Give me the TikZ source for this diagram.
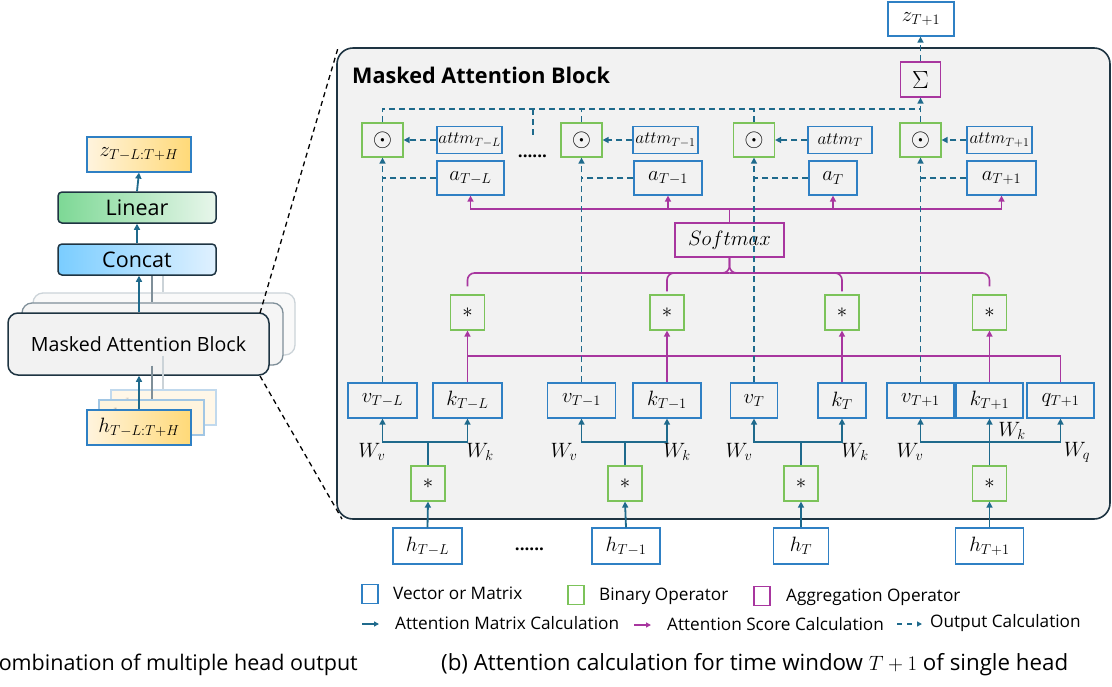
\documentclass[tikz,border=0pt]{standalone}
\usepackage[no-math]{fontspec}
\setmainfont{Open Sans}
\usetikzlibrary{arrows.meta}
\definecolor{vblue}{HTML}{2F80C4}
\definecolor{ogreen}{HTML}{7CC35A}
\definecolor{apurple}{HTML}{A8369F}
\definecolor{arrblue}{HTML}{1F6A8C}
\definecolor{bggray}{HTML}{F2F2F2}
\definecolor{darkedge}{HTML}{1E3442}
\definecolor{gOrL}{HTML}{FFF4DE}
\definecolor{gOrR}{HTML}{FFD977}
\definecolor{gGrL}{HTML}{7DD895}
\definecolor{gGrR}{HTML}{E8F6EB}
\definecolor{gBlL}{HTML}{7ACDFF}
\definecolor{gBlR}{HTML}{E0F1FF}
\definecolor{shadowA}{HTML}{7F8F99}
\definecolor{shadowB}{HTML}{CBD3D8}
\newcommand\myfs[1]{\fontsize{#1}{#1}\selectfont}
\tikzset{
  vec/.style={draw=vblue, line width=1.2pt, inner sep=0pt, minimum height=35pt, font=\myfs{22}},
  bop/.style={draw=ogreen, line width=1.2pt, inner sep=0pt, minimum width=34pt, minimum height=35pt, font=\myfs{20}},
  agg/.style={draw=apurple, line width=1.2pt, inner sep=0pt},
  tip/.style={-{Triangle[length=6pt,width=6pt]}},
  tline/.style={draw=arrblue, line width=1.8pt},
  tarr/.style={tline, tip},
  pline/.style={draw=apurple, line width=1.6pt},
  parr/.style={pline, tip},
  dline/.style={draw=arrblue, line width=1.7pt, dash pattern=on 6pt off 4pt},
  darr/.style={dline, tip},
  odot/.style={bop, minimum width=41pt, minimum height=34pt, font=\myfs{25}},
  attm/.style={vec, minimum width=65pt, minimum height=27pt, font=\myfs{16.5}},
  lblk/.style={draw=darkedge, line width=1.5pt, rounded corners=4pt, inner sep=0pt, minimum width=158pt, minimum height=31pt, font=\myfs{21.5}},
  lgtxt/.style={anchor=west, inner sep=0pt, font=\myfs{17.2}},
  wlab/.style={inner sep=0pt, font=\myfs{20.5}},
  hbox/.style={line width=1.2pt, inner sep=0pt, minimum width=104pt, minimum height=35pt, font=\myfs{21}},
}
\begin{document}
\begin{tikzpicture}[x=1pt,y=-1pt]
\useasboundingbox (0,0) rectangle (1112,686);

%================ LEFT PANEL =================
\node[hbox, draw=vblue, left color=gOrL, right color=gOrR] (zL) at (139,154.5) {$z_{T-L:T+H}$};
\node[lblk, left color=gGrL, right color=gGrR] (lin) at (137,207.5) {Linear};
\node[lblk, left color=gBlL, right color=gBlR] (cat) at (137,259.5) {Concat};

\node[draw=shadowB, line width=1.3pt, fill=gray!5, rounded corners=10pt, minimum width=262pt, minimum height=62pt] (mab3) at (164,324) {};
\node[draw=shadowA, line width=1.3pt, fill=gray!8, rounded corners=10pt, minimum width=261pt, minimum height=62pt] (mab2) at (152.5,334) {};
\node[draw=darkedge, line width=1.5pt, fill=bggray, rounded corners=10pt, minimum width=261pt, minimum height=62pt, font=\myfs{19.6}] (mab1) at (138.5,344) {Masked Attention Block};

\coordinate (c2) at (152,276);
\coordinate (c3) at (163,276);
\draw[shadowA, line width=1.3pt] (c2) -- (c2 |- mab2.north);
\draw[shadowB, line width=1.3pt] (c3) -- (c3 |- mab3.north);

\node[hbox, draw=vblue!30, minimum width=105pt, fill=gOrL!70!white, text opacity=0.15] (hS3) at (163.5,407.5) {$h_{T-L:T+H}$};
\node[hbox, draw=vblue!45, minimum width=105pt, fill=gOrL, text opacity=0.22] (hS2) at (151.5,417.5) {$h_{T-L:T+H}$};
\draw[shadowA, line width=1.3pt] (mab2.south -| c2) -- (c2 |- hS2.north);
\draw[shadowB, line width=1.3pt] (mab3.south -| c3) -- (c3 |- hS3.north);
\node[hbox, draw=vblue, left color=gOrL, right color=gOrR] (hL) at (139,427.5) {$h_{T-L:T+H}$};

\draw[tarr] (hL.north) -- (hL.north |- mab1.south);
\draw[tarr] (mab1.north -| hL.north) -- (hL.north |- cat.south);
\draw[tarr] (cat.north) -- (lin.south);
\draw[tarr] (lin.north) -- (zL.south);

\coordinate (zu0) at (260,313);
\coordinate (zu1) at (338,48);
\coordinate (zd0) at (260,376);
\coordinate (zd1) at (342,519);

%================ BIG BLOCK =================
\node[draw=darkedge, line width=1.6pt, fill=bggray, rounded corners=16pt, minimum width=773pt, minimum height=471pt] (mab) at (723.5,283.5) {};
\draw[black, line width=1.3pt, dash pattern=on 5pt off 4pt] (zu0) -- (zu1);
\draw[black, line width=1.3pt, dash pattern=on 5pt off 4pt] (zd0) -- (zd1);
\node[anchor=base west, inner sep=0pt, font=\bfseries\myfs{21.6}] (title) at (352,83) {Masked Attention Block};

% top output
\node[vec, minimum width=66pt, minimum height=34pt, fill=white] (zT) at (921,19) {$z_{T+1}$};
\node[agg, minimum width=40pt, minimum height=35pt, font=\myfs{27}] (sig) at (920.5,79.5) {$\Sigma$};

% odot row
\node[odot] (o1) at (382.5,140) {$\odot$};
\node[odot] (o2) at (581.5,140) {$\odot$};
\node[odot] (o3) at (754,140) {$\odot$};
\node[odot] (o4) at (920.5,140) {$\odot$};

\node[attm] (t1) at (469.5,140) {$attm_{T-L}$};
\node[attm] (t2) at (665.5,140) {$attm_{T-1}$};
\node[attm, minimum width=64pt] (t3) at (840,140) {$attm_{T}$};
\node[attm] (t4) at (999.5,140) {$attm_{T+1}$};

\node[vec, minimum width=67pt, minimum height=34pt] (a1) at (470.5,178) {$a_{T-L}$};
\node[vec, minimum width=68pt, minimum height=34pt] (a2) at (668,178) {$a_{T-1}$};
\node[vec, minimum width=48pt, minimum height=34pt] (a3) at (833,178) {$a_{T}$};
\node[vec, minimum width=69pt, minimum height=34pt] (a4) at (1001.5,178) {$a_{T+1}$};

\node[inner sep=0pt, font=\bfseries\myfs{17}] (dotsA) at (532.5,156) {......};

% softmax
\node[agg, minimum width=109pt, minimum height=34pt, font=\myfs{21}] (sm) at (729.5,240) {$Softmax$};

% upper * boxes
\node[bop] (s1) at (467.5,312.5) {$*$};
\node[bop] (s2) at (667,312.5) {$*$};
\node[bop] (s3) at (842,312.5) {$*$};
\node[bop] (s4) at (989.5,312.5) {$*$};

% v k q row
\node[vec, minimum width=69pt] (v1) at (382.5,400.5) {$v_{T-L}$};
\node[vec, minimum width=69pt] (k1) at (467.5,400.5) {$k_{T-L}$};
\node[vec, minimum width=68pt] (v2) at (581.5,400.5) {$v_{T-1}$};
\node[vec, minimum width=68pt] (k2) at (667,400.5) {$k_{T-1}$};
\node[vec, minimum width=47pt] (v3) at (754,400.5) {$v_{T}$};
\node[vec, minimum width=48pt] (k3) at (842,400.5) {$k_{T}$};
\node[vec, minimum width=67pt] (v4) at (920.5,400.5) {$v_{T+1}$};
\node[vec, minimum width=67pt] (k4) at (989.5,400.5) {$k_{T+1}$};
\node[vec, minimum width=67pt] (q4) at (1060.5,400.5) {$q_{T+1}$};

% lower * boxes
\node[bop] (m1) at (428,483.5) {$*$};
\node[bop] (m2) at (625,483.5) {$*$};
\node[bop] (m3) at (801,483.5) {$*$};
\node[bop] (m4) at (989.5,483.5) {$*$};

% h row
\node[vec, minimum width=69pt, minimum height=36pt, fill=white] (h1) at (427.5,546) {$h_{T-L}$};
\node[vec, minimum width=68pt, minimum height=36pt, fill=white] (h2) at (626,546) {$h_{T-1}$};
\node[vec, minimum width=55pt, minimum height=36pt, fill=white] (h3) at (801,546) {$h_{T}$};
\node[vec, minimum width=68pt, minimum height=36pt, fill=white] (h4) at (989.5,546) {$h_{T+1}$};
\node[inner sep=0pt, font=\bfseries\myfs{17}] (dotsB) at (529.5,549) {......};

% W labels
\node[wlab] (wv1) at (372,452) {$W_v$};
\node[wlab] (wk1) at (480,452) {$W_k$};
\node[wlab] (wv2) at (564,452) {$W_v$};
\node[wlab] (wk2) at (677,452) {$W_k$};
\node[wlab] (wv3) at (739,452) {$W_v$};
\node[wlab] (wk3) at (855,452) {$W_k$};
\node[wlab] (wv4) at (910,452) {$W_v$};
\node[wlab] (wk4) at (1012,431) {$W_k$};
\node[wlab] (wq4) at (1077,452) {$W_q$};

%================ CONNECTORS =================
\draw[tarr] (h1.north) -- (m1.south);
\draw[tarr] (h2.north) -- (m2.south);
\draw[tarr] (h3.north) -- (m3.south);
\draw[tarr] (h4.north) -- (m4.south);

\coordinate (j1) at (m1.north |- 0,442);
\coordinate (j2) at (m2.north |- 0,442);
\coordinate (j3) at (m3.north |- 0,442);
\coordinate (j4) at (m4.north |- 0,442);
\draw[tline] (m1.north) -- (j1);
\draw[tline] (m2.north) -- (j2);
\draw[tline] (m3.north) -- (j3);
\draw[tarr] (j1) -| (v1.south);
\draw[tarr] (j1) -| (k1.south);
\draw[tarr] (j2) -| (v2.south);
\draw[tarr] (j2) -| (k2.south);
\draw[tarr] (j3) -| (v3.south);
\draw[tarr] (j3) -| (k3.south);
\draw[tarr] (m4.north) -- (k4.south);
\draw[tarr] (j4) -| (v4.south);
\draw[tarr] (j4) -| (q4.south);

\coordinate (qj) at (k1.north |- 0,356);
\draw[pline] (q4.north) |- (qj);
\draw[parr] (k1.north) -- (s1.south);
\draw[parr] (k2.north) -- (s2.south);
\draw[parr] (k3.north) -- (s3.south);
\draw[parr] (k4.north) -- (s4.south);

\coordinate (b1) at ([yshift=8pt]s1.north);
\coordinate (b2) at ([yshift=3pt]s2.north);
\coordinate (b3) at ([yshift=3pt]s3.north);
\coordinate (b4) at ([yshift=8pt]s4.north);
\coordinate (bc) at (sm.south |- 0,273);
\draw[pline, rounded corners=7pt] (sm.south) -- (bc) -| (b1);
\draw[pline, rounded corners=7pt] (sm.south) -- (bc) -| (b4);
\draw[pline, rounded corners=7pt] (bc) -| (b2);
\draw[pline, rounded corners=7pt] (bc) -| (b3);

\coordinate (pa) at (sm.north |- 0,209);
\draw[pline] (sm.north) -- (pa);
\draw[parr] (pa) -| (a1.south);
\draw[parr] (pa) -| (a2.south);
\draw[parr] (pa) -| (a3.south);
\draw[parr] (pa) -| (a4.south);

\draw[darr] (v1.north) -- (o1.south);
\draw[darr] (v2.north) -- (o2.south);
\draw[darr] (v3.north) -- (o3.south);
\draw[darr] (v4.north) -- (o4.south);
\draw[dline] (a1.west) -- (a1.west -| o1.south);
\draw[dline] (a2.west) -- (a2.west -| o2.south);
\draw[dline] (a3.west) -- (a3.west -| o3.south);
\draw[dline] (a4.west) -- (a4.west -| o4.south);
\draw[darr] (t1.west) -- (o1.east);
\draw[darr] (t2.west) -- (o2.east);
\draw[darr] (t3.west) -- (o3.east);
\draw[darr] (t4.west) -- (o4.east);
\coordinate (tl) at (o4.north |- 0,109);
\coordinate (dd) at (533,137);
\draw[dline] (o1.north) |- (tl);
\draw[dline] (o2.north) -- (o2.north |- tl);
\draw[dline] (o3.north) -- (o3.north |- tl);
\draw[dline] (dd |- tl) -- (dd);
\draw[darr] (o4.north) -- (sig.south);
\draw[darr] (sig.north) -- (sig.north |- zT.south);

%================ LEGEND =================
\node[draw=vblue, line width=1.2pt, minimum width=16pt, minimum height=19pt, inner sep=0pt] (lg1) at (370,594) {};
\node[lgtxt] (lt1) at (393,593) {Vector or Matrix};
\node[draw=ogreen, line width=1.4pt, minimum width=16pt, minimum height=19pt, inner sep=0pt] (lg2) at (576,595) {};
\node[lgtxt] (lt2) at (599,596) {Binary Operator};
\node[draw=apurple, line width=1.2pt, minimum width=16pt, minimum height=19pt, inner sep=0pt] (lg3) at (762,596) {};
\node[lgtxt] (lt3) at (786,597) {Aggregation Operator};

\coordinate (la1) at (362,624);
\coordinate (la2) at (379,624);
\draw[draw=arrblue, line width=1.6pt, -{Triangle[length=5pt,width=5pt]}] (la1) -- (la2);
\node[lgtxt] (lt4) at (395,623) {Attention Matrix Calculation};
\coordinate (lb1) at (634,625);
\coordinate (lb2) at (651,625);
\draw[draw=apurple, line width=1.6pt, -{Triangle[length=5pt,width=5pt]}] (lb1) -- (lb2);
\node[lgtxt] (lt5) at (667,624) {Attention Score Calculation};
\coordinate (lc1) at (897,624);
\coordinate (lc2) at (922,624);
\draw[draw=arrblue, line width=1.6pt, dash pattern=on 5pt off 5pt, -{Triangle[length=5pt,width=5pt]}] (lc1) -- (lc2);
\node[lgtxt] (lt6) at (930,623) {Output Calculation};

%================ CAPTIONS =================
\node[anchor=east, inner sep=0pt, font=\myfs{21.5}] (capa) at (358,665) {(a) Combination of multiple head output};
\node[anchor=west, inner sep=0pt, font=\myfs{22.3}] (capb) at (441,665) {(b) Attention calculation for time window $T+1$ of single head};
\end{tikzpicture}
\end{document}
